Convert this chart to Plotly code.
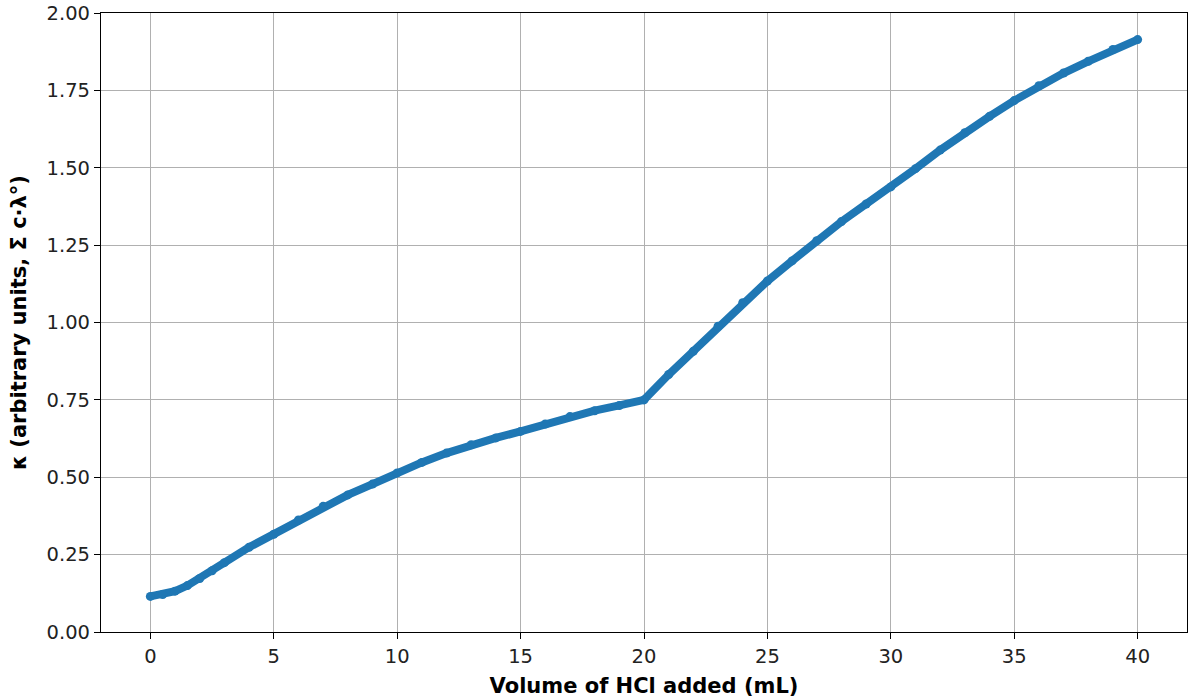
import plotly.graph_objects as go

volume_ml = [0, 0.5, 1, 1.5, 2, 2.5, 3, 4, 5, 6, 7, 8, 9, 10,
             11, 12, 13, 14, 15, 16, 17, 18, 19, 20,
             21, 22, 23, 24, 25, 26, 27, 28, 29, 30,
             31, 32, 33, 34, 35, 36, 37, 38, 39, 40]
kappa = [0.115, 0.121, 0.132, 0.150, 0.173, 0.198, 0.224, 0.274, 0.316, 0.362, 0.406, 0.443, 0.478, 0.514,
         0.548, 0.578, 0.605, 0.627, 0.648, 0.672, 0.696, 0.715, 0.732, 0.750,
         0.832, 0.907, 0.988, 1.064, 1.134, 1.199, 1.264, 1.326, 1.383, 1.438,
         1.497, 1.557, 1.613, 1.666, 1.717, 1.765, 1.806, 1.844, 1.882, 1.914]
x_ticks = [0, 5, 10, 15, 20, 25, 30, 35, 40]
y_ticks = [0.0, 0.25, 0.5, 0.75, 1.0, 1.25, 1.5, 1.75, 2.0]

color = "#1f77b4"
fig = go.Figure()
fig.add_trace(go.Scatter(
    x=volume_ml, y=kappa, mode="lines+markers",
    line=dict(color=color, width=8),
    marker=dict(color=color, size=9),
    showlegend=False,
))

font = "DejaVu Sans"
axis_common = dict(
    showline=True, linecolor="black", linewidth=1.2, mirror=True,
    ticks="outside", ticklen=6, tickcolor="black", tickwidth=1.2,
    showgrid=True, gridcolor="#b0b0b0", gridwidth=1, zeroline=False,
    tickfont=dict(family=font, size=19.5, color="#222222"),
    automargin=False,
)
fig.update_xaxes(
    range=[-2, 42], tickvals=x_ticks,
    title=dict(text="<b>Volume of HCl added (mL)</b>", font=dict(family=font, size=21, color="black"), standoff=11),
    **axis_common,
)
fig.update_yaxes(
    range=[0, 2], tickvals=y_ticks, tickformat=".2f",
    title=dict(text="<b>κ (arbitrary units, Σ c·λ°)</b>", font=dict(family=font, size=21, color="black"), standoff=14),
    **axis_common,
)
fig.update_layout(
    width=1192, height=699,
    margin=dict(l=101, r=5, t=13, b=67),
    plot_bgcolor="white", paper_bgcolor="white",
    font=dict(family=font),
)
fig.write_html(
    "out.html",
    config={"displayModeBar": False},
    post_script="document.body.style.margin='0';document.body.style.overflow='hidden';",
)
